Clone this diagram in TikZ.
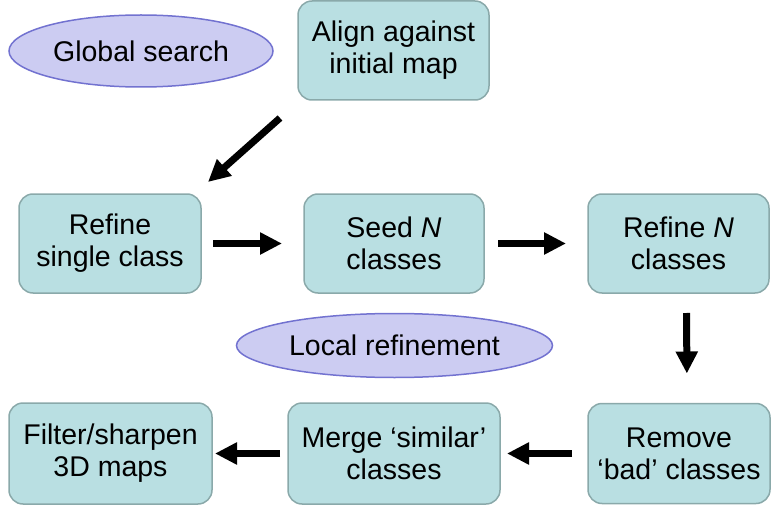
\documentclass[tikz,border=0pt]{standalone}
\usepackage{fontspec}
\setmainfont{Liberation Sans}
\usetikzlibrary{arrows.meta,shapes.geometric}
\definecolor{boxfill}{HTML}{B9DFE2}
\definecolor{boxline}{HTML}{8AA9AA}
\definecolor{ovalfill}{HTML}{CCCCF2}
\definecolor{ovalline}{HTML}{7272D0}

\begin{document}
\begin{tikzpicture}[x=1pt,y=-1pt]
\tikzset{ >={Triangle[length=22pt,width=21pt]}, inner sep=0pt, outer sep=0pt,
  stage/.style={draw=boxline, fill=boxfill, line width=1.5pt, rounded corners=14pt,
                align=center, font=\fontsize{28.5}{32}\selectfont},
  phase/.style={ellipse, draw=ovalline, fill=ovalfill, line width=1.5pt,
                font=\fontsize{28.5}{32}\selectfont},
  flow/.style={->, line width=7pt},
}

\useasboundingbox (0,0) rectangle (782,508);

%\draw [lightgray, dashed] (0,0) grid[step=50] (782,508);

\node [stage, minimum width=191pt, minimum height=99pt] (align) at (393.5,50.5) {Align against\\initial map};
\node [phase, minimum width=264pt, minimum height=72pt] (global) at (141,51) {Global search};

\node [stage, minimum width=182pt, minimum height=99pt] (single) at (110,243.5) {Refine\\single class};
\node [stage, minimum width=180pt, minimum height=99pt] (seed)   at (394,243.5) {Seed \textit{N}\\classes};
\node [stage, minimum width=181pt, minimum height=99pt] (refine) at (678.5,243.5) {Refine \textit{N}\\classes};

\node [phase, minimum width=316pt, minimum height=64pt] (local) at (394.5,345.5) {Local refinement};

\node [stage, minimum width=203pt, minimum height=101pt] (filter) at (110.5,453.5) {Filter/sharpen\\3D maps};
\node [stage, minimum width=212pt, minimum height=101pt] (merge)  at (394,453.5) {Merge ‘similar’\\classes};
\node [stage, minimum width=182pt, minimum height=100pt] (remove) at (679,453.5) {Remove\\‘bad’ classes};

\draw [flow] ([shift={(-18,18)}]align.south west) -- ([shift={(7,-12)}]single.north east);
\draw [flow, shorten <=12pt, shorten >=22pt] (single) -- (seed);
\draw [flow, shorten <=14pt, shorten >=22pt] (seed) -- (refine);
\draw [flow, shorten <=20pt, shorten >=30pt] ([xshift=8pt]refine.south) -- ([xshift=8pt]remove.north);
\draw [flow, shorten <=16pt, shorten >=7pt] (remove) -- (merge);
\draw [flow, shorten <=8pt, shorten >=3pt] (merge) -- (filter);

\end{tikzpicture}
\end{document}
